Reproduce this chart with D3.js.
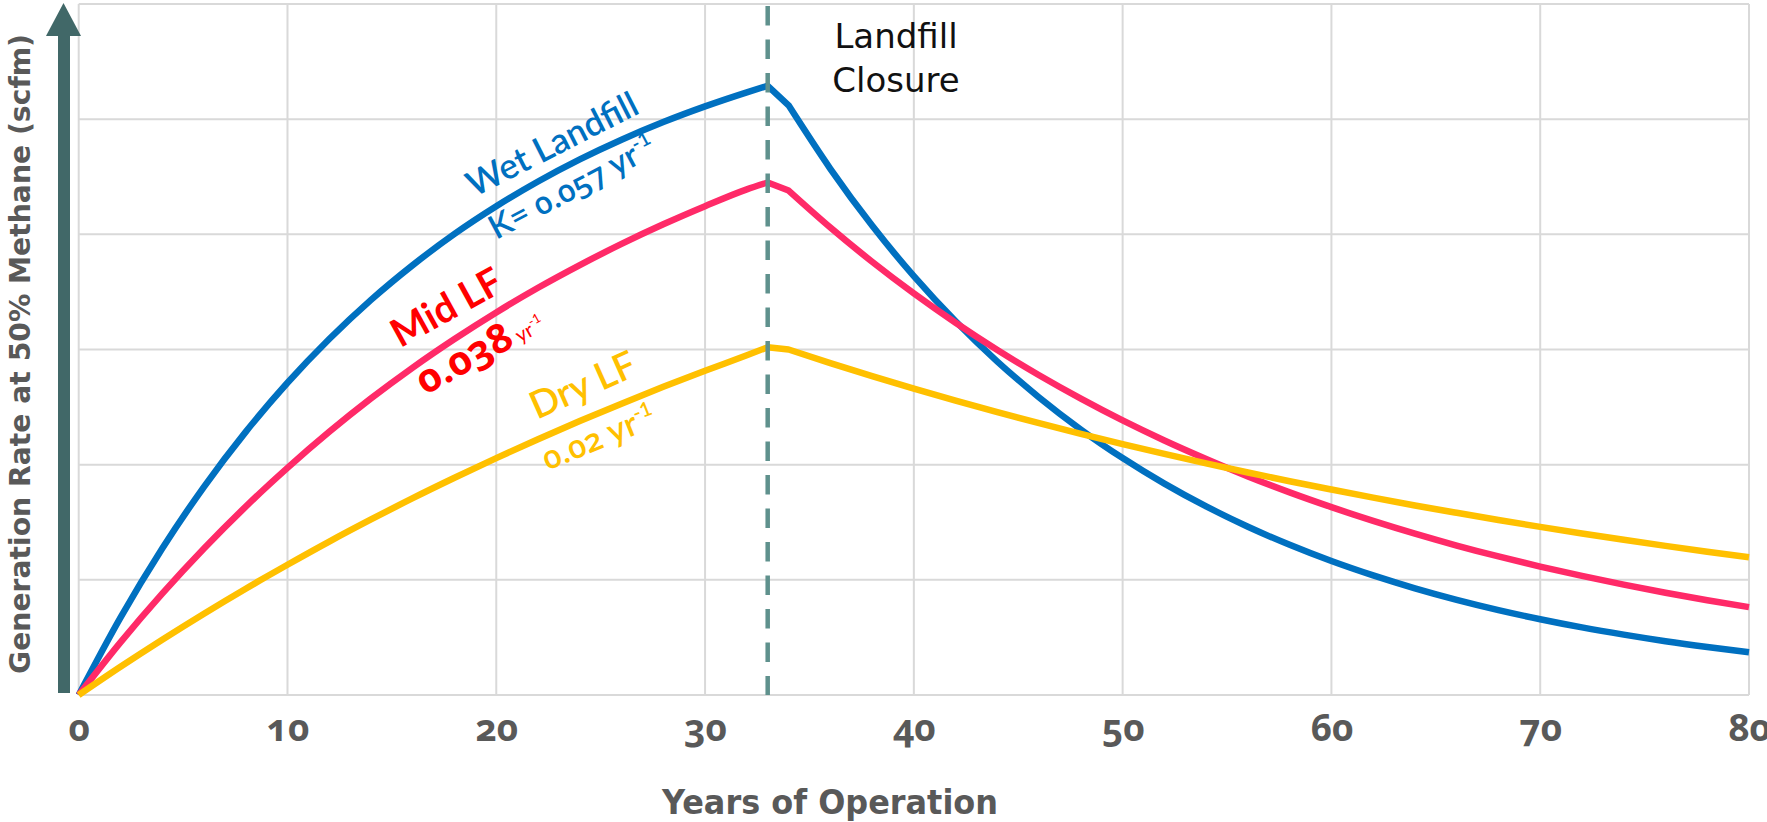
<!DOCTYPE html>
<html>
<head>
<meta charset="utf-8">
<script src="https://cdn.jsdelivr.net/npm/d3@7"></script>
<style>
  html, body { margin: 0; padding: 0; background: #fff; }
  svg { display: block; }
  .onum { font-variant-numeric: oldstyle-nums; font-feature-settings: "onum" 1; }
</style>
</head>
<body>
<svg id="chart" width="1767" height="822"></svg>
<script>
// ---------------- data ----------------
const years = [0,2,4,6,8,10,12,14,16,18,20,22,24,26,28,30,32,33,34,
  36,38,40,42,44,46,48,50,52,54,56,58,60,62,64,66,68,70,72,74,76,78,80];
const wetValues = [0,0.672,1.272,1.808,2.285,2.711,3.091,3.431,3.733,4.004,4.244,4.459,4.651,4.822,4.975,5.111,5.233,5.29,5.12,
  4.569,4.076,3.637,3.245,2.895,2.584,2.305,2.057,1.835,1.637,1.461,1.304,1.163,1.038,0.926,0.826,0.737,0.658,0.587,0.524,0.467,0.417,0.372];
const midValues = [0,0.457,0.880,1.272,1.636,1.972,2.285,2.575,2.843,3.091,3.322,3.536,3.733,3.917,4.087,4.244,4.390,4.45,4.38,
  4.059,3.762,3.487,3.232,2.995,2.776,2.573,2.384,2.210,2.049,1.898,1.759,1.631,1.512,1.401,1.298,1.203,1.115,1.034,0.958,0.888,0.823,0.763];
const dryValues = [0,0.245,0.480,0.706,0.923,1.131,1.332,1.524,1.709,1.886,2.057,2.221,2.379,2.530,2.676,2.815,2.950,3.02,3.00,
  2.882,2.769,2.661,2.556,2.456,2.360,2.267,2.178,2.093,2.011,1.932,1.856,1.784,1.714,1.646,1.582,1.520,1.460,1.403,1.348,1.295,1.244,1.196];
const xTickLabels = ["0","10","20","30","40","50","60","70","80"];
const xTicks = [0,10,20,30,40,50,60,70,80];
const yGridValues = [0,1,2,3,4,5,6];
const closureYear = 33;
const kinkYear = 34;
const seriesNames = ["Wet Landfill", "Mid LF", "Dry LF"];

// ---------------- layout ----------------
const svg = d3.select("#chart");
const x = d3.scaleLinear().domain([0, 80]).range([78.7, 1749]);
const y = d3.scaleLinear().domain([0, 6]).range([695, 4]);

const gridColor = "#d9d9d9";
const textGray = "#595959";

// grid
const grid = svg.append("g");
grid.selectAll("line.v").data(xTicks).join("line")
  .attr("x1", d => x(d)).attr("x2", d => x(d))
  .attr("y1", y(6)).attr("y2", y(0))
  .attr("stroke", gridColor).attr("stroke-width", 2);
grid.selectAll("line.h").data(yGridValues).join("line")
  .attr("x1", x(0)).attr("x2", x(80))
  .attr("y1", d => y(d)).attr("y2", d => y(d))
  .attr("stroke", gridColor).attr("stroke-width", 2);

// x axis labels via d3 axis
const xAxis = d3.axisBottom(x).tickValues(xTicks).tickFormat((d, i) => xTickLabels[i]).tickSize(0).tickPadding(0);
const gx = svg.append("g").attr("transform", "translate(0,741)").call(xAxis);
gx.select(".domain").remove();
gx.selectAll("text")
  .attr("y", 0).attr("dy", 0)
  .attr("class", "onum")
  .attr("fill", textGray)
  .style("font-family", "'Open Sans', 'Noto Sans', sans-serif")
  .style("font-weight", "700")
  .style("font-size", "37px");

// axis titles
svg.append("text")
  .attr("x", 830).attr("y", 814)
  .attr("text-anchor", "middle")
  .attr("fill", textGray)
  .attr("textLength", 336).attr("lengthAdjust", "spacingAndGlyphs")
  .style("font-family", "'DejaVu Sans', sans-serif")
  .style("font-weight", "700")
  .style("font-size", "33px")
  .text("Years of Operation");

svg.append("text")
  .attr("transform", "translate(30,354) rotate(-90)")
  .attr("text-anchor", "middle")
  .attr("fill", textGray)
  .attr("textLength", 640).attr("lengthAdjust", "spacingAndGlyphs")
  .style("font-family", "'DejaVu Sans', sans-serif")
  .style("font-weight", "700")
  .style("font-size", "29px")
  .text("Generation Rate at 50% Methane (scfm)");

// vertical arrow
const arrowColor = "#416868";
svg.append("rect")
  .attr("x", 58).attr("y", 30).attr("width", 12).attr("height", 693 - 30)
  .attr("fill", arrowColor);
svg.append("path")
  .attr("d", `M46,36 L63.5,3 L81,36 Z`)
  .attr("fill", arrowColor);

// series lines
const seriesColors = ["#0070c0", "#ff2a68", "#ffc000"];
const seriesValues = [wetValues, midValues, dryValues];
const lineMono = d3.line().x(d => x(d[0])).y(d => y(d[1])).curve(d3.curveMonotoneX);

seriesValues.forEach((vals, i) => {
  const pts = years.map((t, j) => [t, vals[j]]);
  const rise = pts.filter(p => p[0] <= closureYear);
  const fall = pts.filter(p => p[0] >= kinkYear);
  const d = lineMono(rise) + lineMono(fall).replace(/^M/, "L");
  svg.append("path")
    .attr("d", d)
    .attr("fill", "none")
    .attr("stroke", seriesColors[i])
    .attr("stroke-width", 6.5)
    .attr("stroke-linejoin", "round")
    .attr("stroke-linecap", "butt")
    .attr("data-name", seriesNames[i]);
});

// closure dashed line
svg.append("line")
  .attr("x1", x(closureYear)).attr("x2", x(closureYear))
  .attr("y1", 6).attr("y2", y(0))
  .attr("stroke", "#5f918d").attr("stroke-width", 4.5)
  .attr("stroke-dasharray", "19.5,14");

// closure label
const closure = svg.append("text")
  .attr("text-anchor", "middle")
  .attr("fill", "#111")
  .style("font-family", "'DejaVu Sans', sans-serif")
  .style("font-size", "34px");
closure.append("tspan").attr("x", 896).attr("y", 48).text("Landfill");
closure.append("tspan").attr("x", 896).attr("y", 92).text("Closure");

// curve annotations
const annFont = "Lato, 'Noto Sans', sans-serif";
const numFont = "'Open Sans', 'Noto Sans', sans-serif";
function annot(t, v, angle, color, size, weight, parts) {
  const txt = svg.append("text")
    .attr("transform", `translate(${x(t)},${y(v)}) rotate(${angle})`)
    .attr("fill", color)
    .style("font-family", annFont)
    .style("font-size", size + "px")
    .style("font-weight", weight);
  parts.forEach(p => {
    const ts = txt.append("tspan").text(p.text);
    if (p.size) ts.style("font-size", p.size + "px");
    if (p.weight) ts.style("font-weight", p.weight);
    if (p.dy) ts.attr("dy", p.dy);
    if (p.num) ts.attr("class", "onum").style("font-family", numFont);
  });
}
annot(18.95, 4.32, -27, "#0070c0", 35, 600, [{text: "Wet Landfill"}]);
annot(20.0, 3.95, -28, "#0070c0", 33, 600, [{text: "K= "}, {text: "0.057", num: true, size: 31}, {text: " yr"}, {text: "-1", size: 20, dy: -13}]);
annot(15.4, 3.01, -29, "#ff0000", 39, 700, [{text: "Mid LF"}]);
annot(16.6, 2.60, -29, "#ff0000", 42, 700, [{text: "0.038", num: true, size: 40}, {text: " yr", size: 20, weight: 400}, {text: "-1", size: 13, weight: 400, dy: -9}]);
annot(21.95, 2.39, -24, "#ffc000", 38, 600, [{text: "Dry LF"}]);
annot(22.45, 1.95, -22, "#ffc000", 34, 600, [{text: "0.02", num: true, size: 32}, {text: " yr"}, {text: "-1", size: 20, dy: -13}]);
</script>
</body>
</html>
